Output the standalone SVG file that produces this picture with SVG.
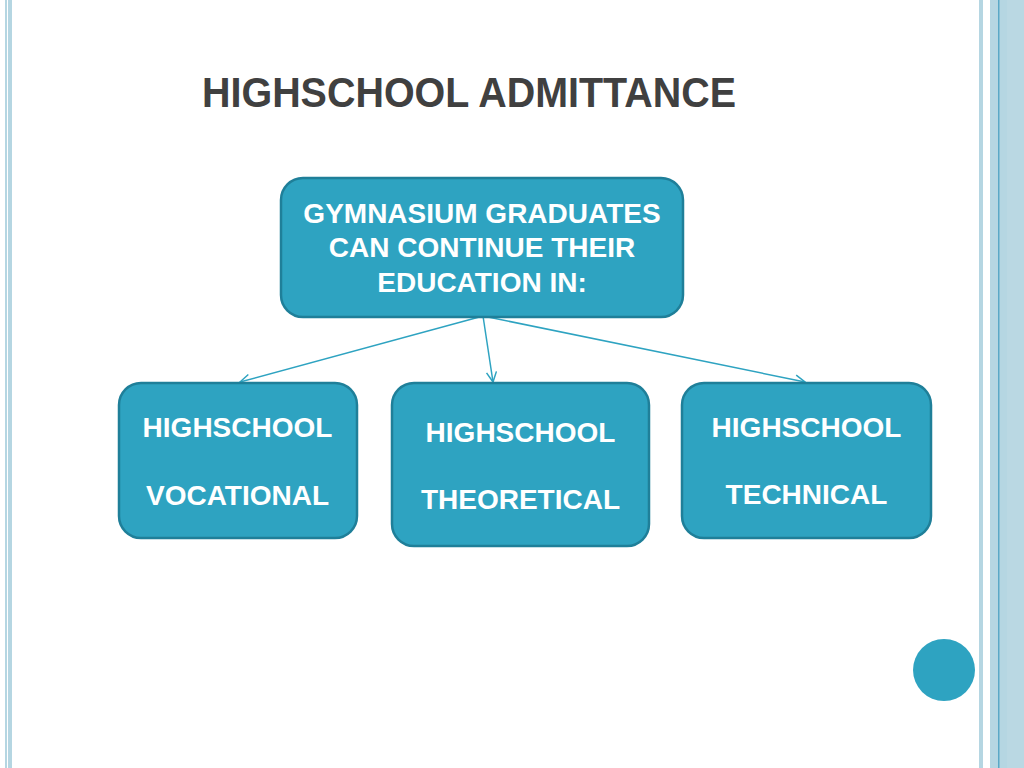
<svg xmlns="http://www.w3.org/2000/svg" width="1024" height="768" viewBox="0 0 1024 768">
<defs>
<style>
.node{fill:#2ea3c1;stroke:#1f7f99;stroke-width:2.5}
.lbl{font-family:"Liberation Sans",Arial,sans-serif;font-weight:bold;font-size:28px;fill:#ffffff;text-anchor:middle}
.conn{stroke:#2ea3c1;stroke-width:1.5;fill:none}
.band{fill:#b5d6e2}
</style>
<marker id="arr" viewBox="0 0 12 12" refX="11" refY="6" markerWidth="12" markerHeight="12" markerUnits="userSpaceOnUse" orient="auto">
<path d="M1,1 L11,6 L1,11" fill="none" stroke="#2ea3c1" stroke-width="1.5"/>
</marker>
</defs>
<rect width="1024" height="768" fill="#ffffff"/>
<g id="borders">
<rect class="band" x="5" y="0" width="2" height="768"/>
<rect class="band" x="8" y="0" width="4" height="768"/>
<rect class="band" x="979" y="0" width="4" height="768"/>
<rect class="band" x="990" y="0" width="17" height="768"/>
<rect x="1007" y="0" width="17" height="768" fill="#bad8e3"/>
<rect x="998" y="0" width="1.5" height="768" fill="#5aa8c6"/>
</g>
<text id="title" x="202" y="107" font-family="'Liberation Sans',Arial,sans-serif" font-weight="bold" font-size="43" fill="#404040" textLength="534" lengthAdjust="spacingAndGlyphs">HIGHSCHOOL ADMITTANCE</text>
<g id="connectors">
<line class="conn" x1="483" y1="316" x2="240" y2="382" marker-end="url(#arr)"/>
<line class="conn" x1="483" y1="316" x2="493" y2="382" marker-end="url(#arr)"/>
<line class="conn" x1="483" y1="316" x2="805" y2="382" marker-end="url(#arr)"/>
</g>
<g id="node-top">
<rect class="node" x="281" y="178" width="402" height="139" rx="22"/>
<text class="lbl" x="482" y="223">GYMNASIUM GRADUATES</text>
<text class="lbl" x="482" y="257">CAN CONTINUE THEIR</text>
<text class="lbl" x="482" y="292">EDUCATION IN:</text>
</g>
<g id="node-vocational">
<rect class="node" x="119" y="383" width="238" height="155" rx="22"/>
<text class="lbl" x="237.5" y="437">HIGHSCHOOL</text>
<text class="lbl" x="237.5" y="505">VOCATIONAL</text>
</g>
<g id="node-theoretical">
<rect class="node" x="392" y="383" width="257" height="163" rx="22"/>
<text class="lbl" x="520.5" y="442">HIGHSCHOOL</text>
<text class="lbl" x="520.5" y="509">THEORETICAL</text>
</g>
<g id="node-technical">
<rect class="node" x="682" y="383" width="249" height="155" rx="22"/>
<text class="lbl" x="806.5" y="437">HIGHSCHOOL</text>
<text class="lbl" x="806.5" y="504">TECHNICAL</text>
</g>
<circle id="dot" cx="944" cy="670" r="31" fill="#2ea3c1"/>
</svg>
